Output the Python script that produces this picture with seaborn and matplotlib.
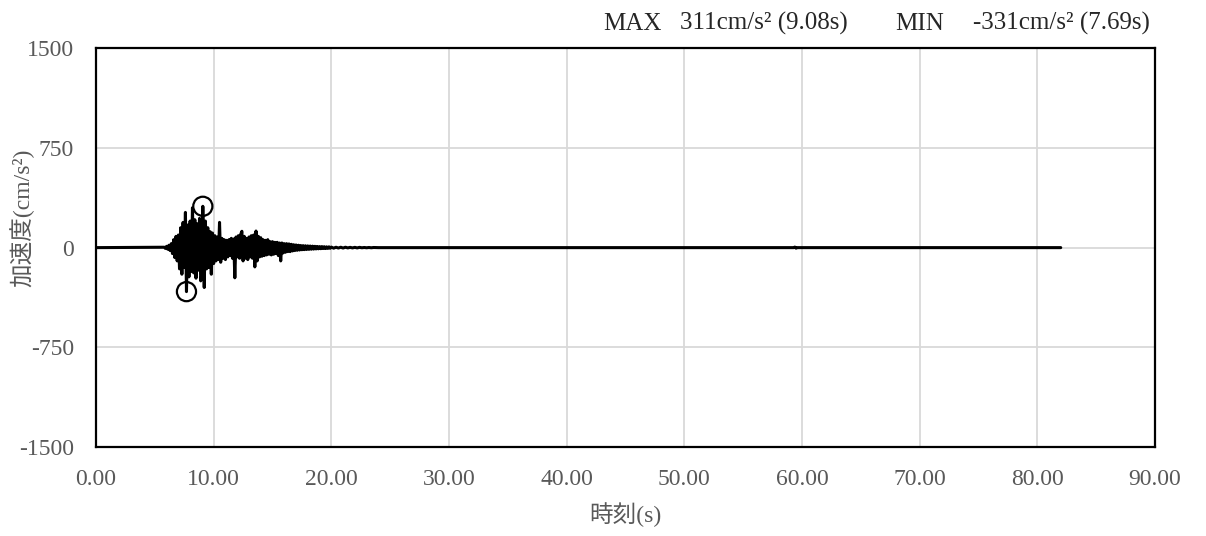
import numpy as np
import pandas as pd
import seaborn as sns
import matplotlib.pyplot as plt

# acceleration record (time in s, acc in cm/s^2)
time_s = [
    0.0, 5.8, 5.9, 6.0, 6.1, 6.2, 6.3, 6.4, 6.5, 6.6, 6.7, 6.8, 6.9,
    7.0, 7.1, 7.2, 7.3, 7.4, 7.5, 7.6, 7.69, 7.8, 7.9,
    8.0, 8.1, 8.2, 8.3, 8.4, 8.5, 8.6, 8.7, 8.8, 8.9,
    9.0, 9.08, 9.2, 9.3, 9.4, 9.5, 9.6, 9.7, 9.8, 9.9,
    10.0, 10.1, 10.2, 10.3, 10.4, 10.5, 10.6, 10.7, 10.8, 10.9,
    11.0, 11.1, 11.2, 11.3, 11.4, 11.5, 11.6, 11.7, 11.8, 11.9,
    12.0, 12.1, 12.2, 12.3, 12.4, 12.5, 12.6, 12.7, 12.8, 12.9,
    13.0, 13.1, 13.2, 13.3, 13.4, 13.5, 13.6, 13.7, 13.8, 13.9,
    14.0, 14.1, 14.2, 14.3, 14.4, 14.5, 14.6, 14.7, 14.8, 14.9,
    15.0, 15.1, 15.2, 15.3, 15.4, 15.5, 15.6, 15.7, 15.8, 15.9,
    16.0, 16.1, 16.2, 16.3, 16.4, 16.5, 16.6, 16.7, 16.8, 16.9,
    17.0, 17.1, 17.2, 17.3, 17.4, 17.5, 17.6, 17.7, 17.8, 17.9,
    18.0, 18.1, 18.2, 18.3, 18.4, 18.5, 18.6, 18.7, 18.8, 18.9,
    19.0, 19.1, 19.2, 19.3, 19.4, 19.5, 19.6, 19.7, 19.8, 19.9,
    20.0, 20.2, 20.4, 20.6, 20.8, 21.0, 21.2, 21.4, 21.6, 21.8,
    22.0, 22.2, 22.4, 22.6, 22.8, 23.0, 23.2, 23.4, 23.6, 24.0,
    59.3, 59.4, 59.5, 59.6, 82.0,
]
acc = [
    0, 3, -6, 10, -12, 18, -22, 30, -45, 60, -75, 85, -100,
    95, -160, 150, -200, 190, -150, 265, -331, 170, -220,
    200, -180, 300, -190, 210, -230, 180, -170, 220, -250,
    -200, 311, -300, 200, -160, 150, -150, 120, -200, 110,
    -120, 90, -100, 80, -90, 190, -110, 70, -80, 60,
    -90, 55, -70, 60, -60, 70, -80, 65, -227, 80,
    -70, 90, -80, 100, 123, -100, 85, -80, 70, -90,
    80, -70, 90, -80, 95, -145, 125, -100, 85, -70,
    75, -65, 60, -60, 55, -55, 60, -50, 45, -55,
    45, -50, 40, -45, 40, -60, 35, -100, 35, -40,
    30, -35, 30, -30, 28, -30, 25, -25, 22, -22,
    20, -20, 18, -18, 16, -16, 15, -15, 14, -14,
    13, -13, 12, -12, 11, -11, 10, -10, 9, -9,
    8, -8, 8, -7, 7, -7, 6, -6, 6, -5,
    4, -4, 3, -3, 3, -3, 3, -2, 2, -2,
    2, -2, 2, -1, 1, -1, 1, -1, 1, 0,
    0, 4, -4, 0, 0,
]

peak_time = [9.08, 7.69]
peak_acc = [311, -331]

x_ticks = [0, 10, 20, 30, 40, 50, 60, 70, 80, 90]
y_ticks = [-1500, -750, 0, 750, 1500]

df = pd.DataFrame({"t": time_s, "a": acc})
peaks = pd.DataFrame({"t": peak_time, "a": peak_acc})

sns.set_style("white")
plt.rcParams['font.family'] = ['Liberation Serif', 'Noto Sans CJK JP']
label_color = '#595959'
fs = 17

fig = plt.figure(figsize=(12.06, 5.36), dpi=100)
ax = fig.add_axes([0.0796, 0.166, 0.878, 0.744])

sns.lineplot(data=df, x="t", y="a", sort=False, estimator=None,
             color='black', linewidth=2.2, ax=ax)
sns.scatterplot(data=peaks, x="t", y="a", s=190, facecolor='none',
                edgecolor='black', linewidth=1.6, ax=ax, zorder=5)

ax.set_xlim(0, 90)
ax.set_ylim(-1500, 1500)
ax.set_xticks(x_ticks)
ax.set_xticklabels([f"{v:.2f}" for v in x_ticks])
ax.set_yticks(y_ticks)
ax.set_yticklabels([str(v) for v in y_ticks])
ax.grid(True, color='#d9d9d9', linewidth=1.3)
ax.set_axisbelow(True)
ax.tick_params(length=0, pad=16, labelsize=fs, labelcolor=label_color)

for s in ax.spines.values():
    s.set_color('black')
    s.set_linewidth(1.6)

ax.set_xlabel("時刻(s)", fontsize=fs, color=label_color, va='center')
ax.xaxis.set_label_coords(0.5, -0.17)
ax.set_ylabel("加速度(cm/s²)", fontsize=fs, color=label_color, va='center')
ax.yaxis.set_label_coords(-0.07, 0.574)

# peak summary line above the plot
ty = 1 - 30 / 536
tfs = 18
fig.text(603 / 1206, ty, "MAX", ha='left', va='baseline', fontsize=tfs)
fig.text(680 / 1206, ty, "311cm/s² (9.08s)", ha='left', va='baseline', fontsize=tfs)
fig.text(895 / 1206, ty, "MIN", ha='left', va='baseline', fontsize=tfs)
fig.text(1150 / 1206, ty, "-331cm/s² (7.69s)", ha='right', va='baseline', fontsize=tfs)

fig.savefig('out.png', dpi=100)
